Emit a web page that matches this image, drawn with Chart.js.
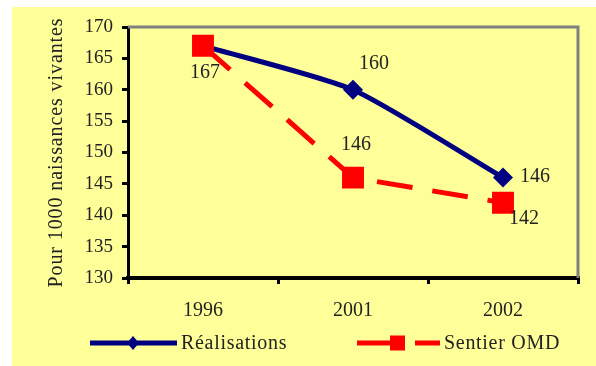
<!DOCTYPE html>
<html>
<head>
<meta charset="utf-8">
<script src="https://cdn.jsdelivr.net/npm/chart.js@4.4.0/dist/chart.umd.min.js"></script>
<style>
  html, body { margin: 0; padding: 0; background: #ffffff; }
  #wrap { width: 596px; height: 366px; position: relative; }
</style>
</head>
<body>
<div id="wrap"><canvas id="c" width="596" height="366"></canvas></div>
<script>
// Mortalité infanto-juvénile (pour 1000 naissances vivantes)
const years = ['1996', '2001', '2002'];
const realisations = [167, 160, 146];
const sentierOMD = [167, 146, 142];
const yMin = 130;
const yMax = 170;
const yStep = 5;
const seriesNames = ['Réalisations', 'Sentier OMD'];
const yTitle = 'Pour 1000 naissances vivantes';

const SERIF = '"Liberation Serif", "DejaVu Serif", serif';
const TEXT = '#222222';
const BLUE = '#000080';
const RED = '#ff0000';

// value labels: which series, which point, and where the text sits relative to the point
const valueLabels = [
  { ds: 1, i: 0, dx: 2,  dy: 27,  align: 'center' },
  { ds: 0, i: 1, dx: 21, dy: -26, align: 'center' },
  { ds: 0, i: 2, dx: 17, dy: -1,  align: 'left' },
  { ds: 1, i: 1, dx: 3,  dy: -33, align: 'center' },
  { ds: 1, i: 2, dx: 21, dy: 16,  align: 'center' }
];

const backdrop = {
  id: 'backdrop',
  beforeDraw(chart) {
    const ctx = chart.ctx;
    ctx.save();
    ctx.fillStyle = '#ffff99';
    ctx.fillRect(12, 7, chart.width - 12, chart.height - 7);
    ctx.restore();
  },
  beforeDatasetsDraw(chart) {
    const { ctx, chartArea: a } = chart;
    ctx.save();
    // grey frame on the top and right of the plot area
    ctx.strokeStyle = '#808080';
    ctx.lineWidth = 3;
    ctx.beginPath();
    ctx.moveTo(a.left, a.top);
    ctx.lineTo(a.right, a.top);
    ctx.lineTo(a.right, a.bottom);
    ctx.stroke();
    // vertical axis title
    ctx.translate(57, (a.top + a.bottom) / 2);
    ctx.rotate(-Math.PI / 2);
    ctx.font = '20px ' + SERIF;
    ctx.letterSpacing = '0.9px';
    ctx.fillStyle = TEXT;
    ctx.textAlign = 'center';
    ctx.textBaseline = 'middle';
    ctx.fillText(yTitle, 0, 0);
    ctx.restore();
  }
};

const pointLabels = {
  id: 'pointLabels',
  afterDatasetsDraw(chart) {
    const ctx = chart.ctx;
    ctx.save();
    ctx.font = '20px ' + SERIF;
    ctx.fillStyle = TEXT;
    ctx.textBaseline = 'middle';
    valueLabels.forEach(l => {
      const el = chart.getDatasetMeta(l.ds).data[l.i];
      const v = chart.data.datasets[l.ds].data[l.i];
      ctx.textAlign = l.align;
      ctx.fillText(String(v), el.x + l.dx, el.y + l.dy);
    });
    ctx.restore();
  }
};

const lineLegend = {
  id: 'lineLegend',
  afterDraw(chart) {
    const ctx = chart.ctx;
    const y = 343;
    ctx.save();
    // Réalisations
    ctx.strokeStyle = BLUE;
    ctx.lineWidth = 5;
    ctx.lineCap = 'butt';
    ctx.beginPath();
    ctx.moveTo(90, y);
    ctx.lineTo(177, y);
    ctx.stroke();
    ctx.fillStyle = BLUE;
    ctx.beginPath();
    ctx.moveTo(133 - 6, y);
    ctx.lineTo(133, y - 7);
    ctx.lineTo(133 + 6, y);
    ctx.lineTo(133, y + 7);
    ctx.closePath();
    ctx.fill();
    // Sentier OMD
    ctx.strokeStyle = RED;
    ctx.setLineDash([48, 10]);
    ctx.beginPath();
    ctx.moveTo(357, y);
    ctx.lineTo(440, y);
    ctx.stroke();
    ctx.setLineDash([]);
    ctx.fillStyle = RED;
    ctx.fillRect(390, y - 7.5, 15, 15);
    // texts
    ctx.fillStyle = TEXT;
    ctx.font = '20px ' + SERIF;
    ctx.letterSpacing = '0.7px';
    ctx.textAlign = 'left';
    ctx.textBaseline = 'middle';
    ctx.fillText(seriesNames[0], 181, y + 1);
    ctx.fillText(seriesNames[1], 444, y + 1);
    ctx.restore();
  }
};

new Chart(document.getElementById('c'), {
  type: 'line',
  data: {
    labels: years,
    datasets: [
      {
        label: seriesNames[0],
        data: realisations,
        order: 2,
        borderColor: BLUE,
        backgroundColor: BLUE,
        borderWidth: 5,
        tension: 0.2,
        pointStyle: 'rectRot',
        pointRadius: 10,
        pointBorderWidth: 0,
        pointBackgroundColor: BLUE
      },
      {
        label: seriesNames[1],
        data: sentierOMD,
        order: 1,
        borderColor: RED,
        backgroundColor: RED,
        borderWidth: 5,
        borderDash: [36, 20],
        tension: 0,
        pointStyle: 'rect',
        pointRadius: 15.5,
        pointBorderWidth: 0,
        pointBackgroundColor: RED
      }
    ]
  },
  options: {
    responsive: false,
    animation: false,
    devicePixelRatio: 1,
    layout: { padding: { top: 27, right: 18, left: 0, bottom: 0 } },
    plugins: {
      legend: { display: false },
      tooltip: { enabled: false }
    },
    scales: {
      x: {
        offset: true,
        grid: { offset: true, drawOnChartArea: false, drawTicks: true, tickLength: 6, color: '#000', lineWidth: 3 },
        border: { color: '#000', width: 4 },
        ticks: { color: TEXT, font: { family: SERIF, size: 20 }, padding: 15, maxRotation: 0 },
        afterFit(s) { s.height = 88; }
      },
      y: {
        min: yMin,
        max: yMax,
        grid: { drawOnChartArea: false, drawTicks: true, tickLength: 6, color: '#000', lineWidth: 3 },
        border: { color: '#000', width: 3 },
        ticks: { stepSize: yStep, color: TEXT, font: { family: SERIF, size: 19 }, padding: 9 },
        afterFit(s) { s.width = 128; }
      }
    }
  },
  plugins: [backdrop, pointLabels, lineLegend]
});
</script>
</body>
</html>
